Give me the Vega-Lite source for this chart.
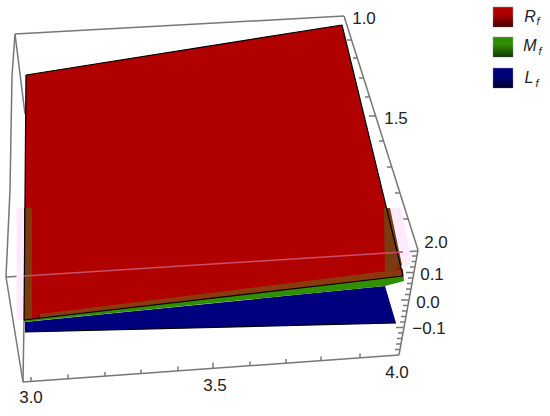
{
"$schema":"https://vega.github.io/schema/vega-lite/v6.json",
"width":550,"height":416,"padding":0,"autosize":"none",
"background":"white",
"config":{"view":{"stroke":null}},
"datasets":{
"surfaces":[
{"shape":"pinkL","seq":1,"h":16.5,"v":208},{"shape":"pinkL","seq":2,"h":24,"v":208},{"shape":"pinkL","seq":3,"h":24,"v":320},{"shape":"pinkL","seq":4,"h":16.5,"v":320},
{"shape":"pinkR","seq":1,"h":390,"v":208},{"shape":"pinkR","seq":2,"h":401,"v":208},{"shape":"pinkR","seq":3,"h":412,"v":262},{"shape":"pinkR","seq":4,"h":404,"v":268},
{"shape":"L","seq":1,"h":25,"v":322},{"shape":"L","seq":2,"h":385,"v":286},{"shape":"L","seq":3,"h":396,"v":323},{"shape":"L","seq":4,"h":25,"v":332},
{"shape":"M","seq":1,"h":24,"v":320},{"shape":"M","seq":2,"h":403,"v":270},{"shape":"M","seq":3,"h":404,"v":281},{"shape":"M","seq":4,"h":385,"v":286},{"shape":"M","seq":5,"h":24,"v":322},
{"shape":"R","seq":1,"h":26,"v":75},{"shape":"R","seq":2,"h":342,"v":25},{"shape":"R","seq":3,"h":403,"v":276},{"shape":"R","seq":4,"h":24,"v":320},
{"shape":"brownL","seq":1,"h":24,"v":208},{"shape":"brownL","seq":2,"h":32,"v":208},{"shape":"brownL","seq":3,"h":32,"v":319},{"shape":"brownL","seq":4,"h":24,"v":320},
{"shape":"brownR","seq":1,"h":384,"v":208},{"shape":"brownR","seq":2,"h":390,"v":208},{"shape":"brownR","seq":3,"h":402,"v":265},{"shape":"brownR","seq":4,"h":385,"v":277},
{"shape":"brownB","seq":1,"h":40,"v":314},{"shape":"brownB","seq":2,"h":403,"v":269},{"shape":"brownB","seq":3,"h":403,"v":276},{"shape":"brownB","seq":4,"h":40,"v":318}
],
"frame":[
{"h":15,"v":34,"h2":344,"v2":16},
{"h":15,"v":34,"h2":12,"v2":76},{"h":12,"v":76,"h2":10,"v2":190},{"h":10,"v":190,"h2":6,"v2":277},{"h":6,"v":277,"h2":23,"v2":382},
{"h":15,"v":34,"h2":25,"v2":114},{"h":24,"v":320,"h2":23,"v2":382},
{"h":23,"v":382,"h2":399,"v2":355},{"h":344,"v":16,"h2":418,"v2":250},{"h":418,"v":250,"h2":399,"v2":355},
{"h":6,"v":277,"h2":24,"v2":276},{"h":403,"v":252,"h2":418,"v2":251},
{"h":31,"v":381.4,"h2":31,"v2":377},{"h":68,"v":378.8,"h2":68,"v2":374.5},{"h":105,"v":376.1,"h2":105,"v2":372},{"h":141,"v":373.5,"h2":141,"v2":369.5},{"h":178,"v":370.9,"h2":178,"v2":366.5},{"h":213,"v":368.4,"h2":213,"v2":362.5},{"h":250,"v":365.7,"h2":250,"v2":361.5},{"h":286,"v":363.1,"h2":286,"v2":359},{"h":321,"v":360.6,"h2":321,"v2":356.5},{"h":360,"v":357.8,"h2":360,"v2":353.5},
{"h":351.6,"v":40,"h2":347,"v2":40},{"h":357.3,"v":58,"h2":353,"v2":58},{"h":363.6,"v":78,"h2":359,"v2":78},{"h":369.6,"v":97,"h2":365,"v2":97},{"h":375.6,"v":116,"h2":369,"v2":116},{"h":383.5,"v":141,"h2":379,"v2":141},{"h":391.7,"v":167,"h2":387,"v2":167},{"h":399.9,"v":193,"h2":395,"v2":193},{"h":408.1,"v":219,"h2":403,"v2":219},
{"h":416.9,"v":256,"h2":412,"v2":256},{"h":415.9,"v":261.5,"h2":411,"v2":261.5},{"h":414.9,"v":267,"h2":410,"v2":267},{"h":413.9,"v":272.5,"h2":406,"v2":272.5},{"h":412.9,"v":278,"h2":408,"v2":278},{"h":411.9,"v":283.5,"h2":407,"v2":283.5},{"h":410.9,"v":289,"h2":406,"v2":289},{"h":409.9,"v":294.5,"h2":405,"v2":294.5},{"h":408.9,"v":300,"h2":401,"v2":300},{"h":407.9,"v":305.5,"h2":403,"v2":305.5},{"h":406.9,"v":311,"h2":402,"v2":311},{"h":405.9,"v":316.5,"h2":401,"v2":316.5},{"h":404.9,"v":322,"h2":400,"v2":322},{"h":403.9,"v":327.5,"h2":396,"v2":327.5},{"h":402.9,"v":333,"h2":398,"v2":333},{"h":401.9,"v":338.5,"h2":397,"v2":338.5},{"h":400.9,"v":344,"h2":396,"v2":344},{"h":399.9,"v":349.5,"h2":395,"v2":349.5}
],
"outline":[
{"h":26,"v":75,"h2":342,"v2":25},{"h":26,"v":75,"h2":24,"v2":320},{"h":342,"v":25,"h2":403,"v2":276},{"h":24,"v":320,"h2":403,"v2":276},{"h":25,"v":332,"h2":396,"v2":323}
],
"front":[{"h":24,"v":276,"h2":403,"v2":252}],
"ticks":[
{"label":"1.0","h":364,"v":19},{"label":"1.5","h":396,"v":119},{"label":"2.0","h":436,"v":243},{"label":"0.1","h":432,"v":275},{"label":"0.0","h":428,"v":303},{"label":"−0.1","h":429,"v":329},{"label":"3.0","h":31,"v":398},{"label":"3.5","h":215,"v":386},{"label":"4.0","h":397,"v":373}
],
"legend":[
{"series":"R","h":493,"h2":513,"v":7,"v2":27,"th":530,"tv":17,"fh":538,"fv":22},
{"series":"M","h":493,"h2":513,"v":37,"v2":57,"th":530,"tv":46,"fh":540,"fv":52},
{"series":"L","h":493,"h2":513,"v":68,"v2":88,"th":529,"tv":78,"fh":537,"fv":84}
]
},
"encoding":{
"x":{"field":"h","type":"quantitative","scale":{"domain":[0,550],"nice":false,"zero":false},"axis":null},
"y":{"field":"v","type":"quantitative","scale":{"domain":[416,0],"nice":false,"zero":false},"axis":null}
},
"layer":[
{"data":{"name":"frame"},"mark":{"type":"rule","stroke":"#777777","strokeWidth":1.5},"encoding":{"x2":{"field":"h2"},"y2":{"field":"v2"}}},
{"data":{"name":"surfaces"},"mark":{"type":"line","interpolate":"linear-closed","strokeWidth":0},
 "encoding":{"order":{"field":"seq","type":"quantitative"},
 "detail":{"field":"shape"},
 "fill":{"field":"shape","type":"nominal","legend":null,"scale":{"domain":["pinkL","pinkR","L","M","R","brownL","brownR","brownB"],"range":["#fdeafc","#fdeafc","#00007f","#2f8f00","#b00000","#7a3b10","#7a3b10","#8a3a0c"]}}}},
{"data":{"name":"outline"},"mark":{"type":"rule","stroke":"#000000","strokeWidth":1.2},"encoding":{"x2":{"field":"h2"},"y2":{"field":"v2"}}},
{"data":{"name":"front"},"mark":{"type":"rule","stroke":"#c8506a","strokeWidth":1.5},"encoding":{"x2":{"field":"h2"},"y2":{"field":"v2"}}},
{"data":{"name":"ticks"},"mark":{"type":"text","font":"Liberation Sans","fontSize":17,"fill":"#222222","align":"center","baseline":"middle"},"encoding":{"text":{"field":"label"}}},
{"data":{"name":"legend"},"mark":{"type":"rect","stroke":"#999999","strokeWidth":0.5},
 "encoding":{"x2":{"field":"h2"},"y2":{"field":"v2"},
 "fill":{"field":"series","type":"nominal","legend":null,"scale":{"domain":["R","M","L"],"range":["#b00000","#00a000","#0000a0"]}}}},
{"data":{"name":"legend"},"mark":{"type":"rect","fill":{"gradient":"linear","x1":0,"y1":0,"x2":0,"y2":1,"stops":[{"offset":0.35,"color":"rgba(0,0,0,0)"},{"offset":1,"color":"rgba(0,0,0,0.6)"}]}},
 "encoding":{"x2":{"field":"h2"},"y2":{"field":"v2"}}},
{"data":{"name":"legend"},"mark":{"type":"text","font":"Liberation Sans","fontStyle":"italic","fontSize":16,"fill":"#222222","align":"center","baseline":"middle"},
 "encoding":{"x":{"field":"th","type":"quantitative"},"y":{"field":"tv","type":"quantitative"},"text":{"field":"series"}}},
{"data":{"name":"legend"},"mark":{"type":"text","font":"Liberation Sans","fontStyle":"italic","fontSize":11,"fill":"#222222","align":"center","baseline":"middle"},
 "encoding":{"x":{"field":"fh","type":"quantitative"},"y":{"field":"fv","type":"quantitative"},"text":{"value":"f"}}}
]
}
